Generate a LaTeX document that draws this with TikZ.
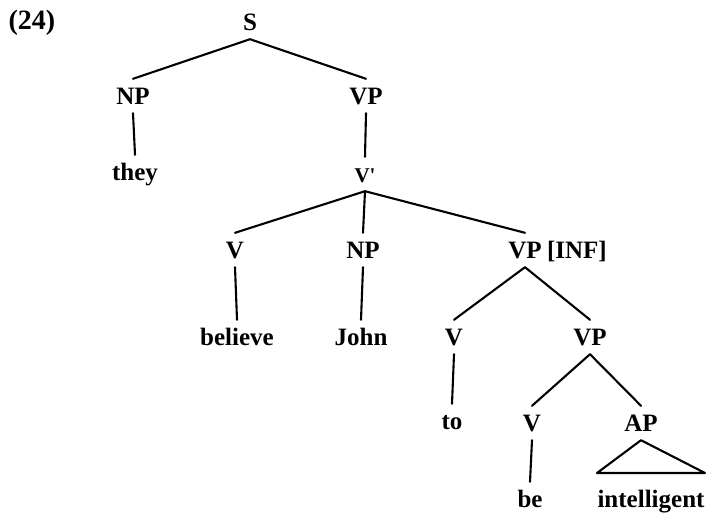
\documentclass[tikz,border=0pt]{standalone}
\usepackage{fontspec}
\setmainfont{Liberation Serif}
\begin{document}
\begin{tikzpicture}[x=1pt,y=-1pt,
  cat/.style={font=\bfseries\fontsize{25}{28}\selectfont, inner xsep=1pt,
    inner ysep=8.75pt, text height=16.5pt, text depth=0pt, anchor=center},
  branch/.style={line width=2.1pt, line cap=round, line join=round}]
\useasboundingbox (0,0) rectangle (709,512);

% example number
\node[cat,font=\bfseries\fontsize{28}{30}\selectfont] (num) at (32,21) {(24)};

% nodes of the tree
\node[cat] (s)      at (250,22)  {S};
\node[cat] (np1)    at (133,96)  {NP};
\node[cat] (vp1)    at (366,96)  {VP};
\node[cat] (they)   at (135,172) {they};
\node[cat,font=\bfseries\fontsize{21}{24}\selectfont] (vbar) at (365,174) {V\textquotesingle};
\node[cat] (v1)     at (235,250) {V};
\node[cat] (np2)    at (363,250) {NP};
\node[cat] (vpinf)  at (525,250) {VP};
\node[cat,anchor=west] (inf) at ([xshift=3pt]vpinf.east) {[INF]};
\node[cat] (believe) at (237,337) {believe};
\node[cat] (john)   at (361,337) {John};
\node[cat] (v2)     at (454,337) {V};
\node[cat] (vp2)    at (590,337) {VP};
\node[cat] (to)     at (452,421) {to};
\node[cat] (v3)     at (532,423) {V};
\node[cat] (ap)     at (641,423) {AP};
\node[cat] (be)     at (530,499) {be};
\node[cat] (intel)  at (651,499) {intelligent};

% corners of the AP triangle
\coordinate (tl) at (597,473);
\coordinate (tr) at (705,473);

% branches
\draw[branch] (np1.north) -- (s.south) -- (vp1.north);
\draw[branch] (np1.south) -- (they.north);
\draw[branch] (vp1.south) -- (vbar.north);
\draw[branch] (v1.north) -- (vbar.south) -- (vpinf.north);
\draw[branch] (vbar.south) -- (np2.north);
\draw[branch] (v1.south) -- (believe.north);
\draw[branch] (np2.south) -- (john.north);
\draw[branch] (v2.north) -- (vpinf.south) -- (vp2.north);
\draw[branch] (v2.south) -- (to.north);
\draw[branch] (v3.north) -- (vp2.south) -- (ap.north);
\draw[branch] (v3.south) -- (be.north);
\draw[branch] (ap.south) -- (tl) -- (tr) -- cycle;
\end{tikzpicture}
\end{document}
